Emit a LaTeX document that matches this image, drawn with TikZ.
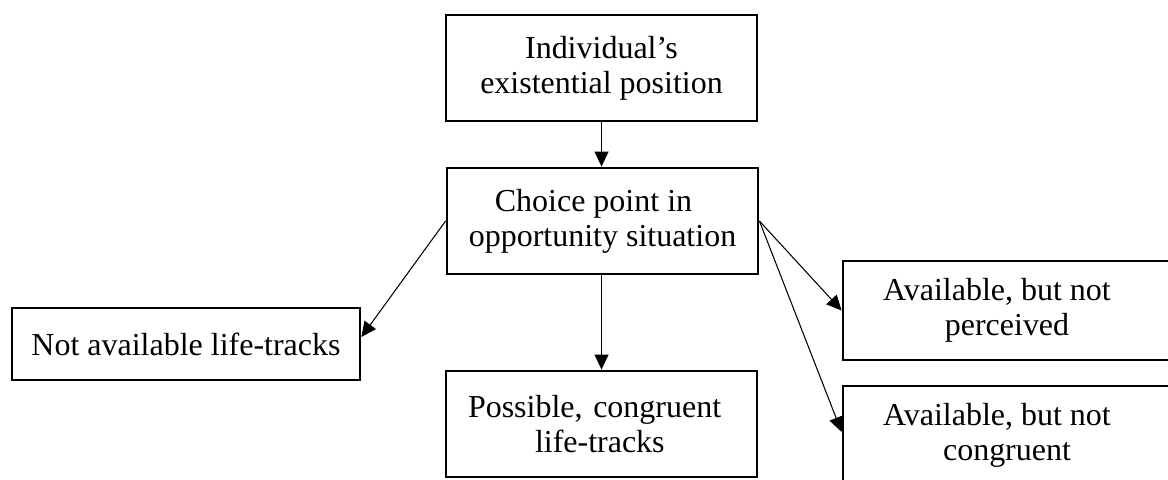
\documentclass[tikz,border=0pt]{standalone}
\usepackage{fontspec}
\setmainfont{Liberation Serif}
\usepackage{tikz}
\usetikzlibrary{arrows.meta, positioning}
\newcommand\midcol{12.03}
\newcommand\rightcol{20.14}

\begin{document}
\begin{tikzpicture}[box/.style={rectangle, draw, line width=1.6pt, minimum width=6.22cm, minimum height=2.12cm, align=center, inner sep=0pt},
    arr/.style={-{Triangle[length=0.3cm, width=0.28cm]}, line width=0.6pt},
    font=\fontsize{18.2}{19.9}\selectfont]

    \clip (0, 0) rectangle (23.36, -9.58);
    \useasboundingbox (0, 0) rectangle (23.36, -9.58);

    % Middle column
    \node at (\midcol, -1.36) [box] (pos) {Individual's\\existential position};
    \node at (\midcol + 0.02, -4.42) [box] (choice) {Choice point in\hspace*{0.36cm}\\opportunity situation};
    \node at (\midcol, -8.48) [box, text width=6.22cm, align=left] (congr) {\hspace*{0.44cm}Possible, congruent\\\hspace*{1.78cm}life-tracks};

    % Left
    \node at (3.72, -6.88) [box, minimum width=6.96cm, minimum height=1.44cm] (notav) {Not available life-tracks};

    % Right
    \node at (\rightcol, -6.21) [box, minimum width=6.56cm, minimum height=1.98cm] (notperc) {Available, but not\hspace*{0.4cm}\\perceived};
    \node at (\rightcol, -8.71) [box, minimum width=6.56cm, minimum height=1.98cm] (notcongr) {Available, but not\hspace*{0.4cm}\\congruent};

    \draw[arr] (pos.south) -- (choice.north -| pos.south);
    \draw[arr] (choice.south -| pos.south) -- (congr.north);
    \draw[arr] (choice.west) -- ([yshift=0.14cm]notav.east);
    \draw[arr] (choice.east) -- (notperc.west);
    \draw[arr] (choice.east) -- ([yshift=0.07cm]notcongr.west);

\end{tikzpicture}
\end{document}
